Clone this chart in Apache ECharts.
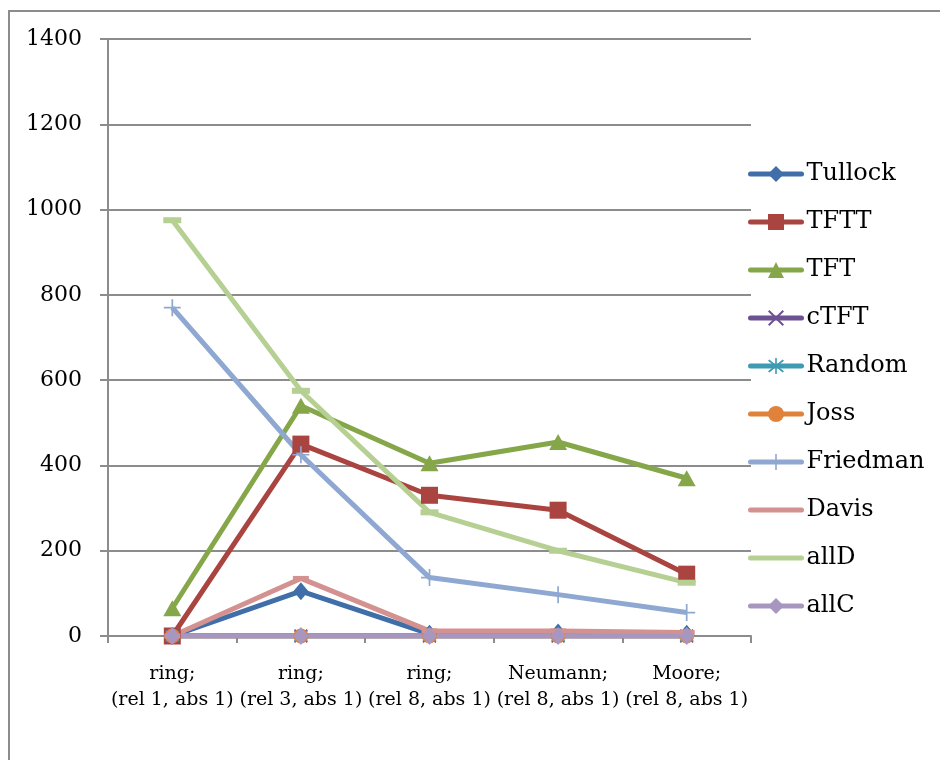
<!DOCTYPE html>
<html>
<head>
<meta charset="utf-8">
<script src="https://cdn.jsdelivr.net/npm/echarts@6/dist/echarts.min.js"></script>
<style>
  html, body { margin: 0; padding: 0; background: #fff; }
  #frame { position: absolute; left: 8px; top: 10px; width: 1000px; height: 800px; border: 2px solid #8c8c8c; box-sizing: border-box; }
  #chart { position: absolute; left: 0; top: 0; width: 940px; height: 760px; }
</style>
</head>
<body>
<div id="frame"></div>
<div id="chart"></div>
<script>
// Neighbourhood configurations on the x axis
const categories = [
  'ring;\n(rel 1, abs 1)',
  'ring;\n(rel 3, abs 1)',
  'ring;\n(rel 8, abs 1)',
  'Neumann;\n(rel 8, abs 1)',
  'Moore;\n(rel 8, abs 1)'
];
const yTicks = { min: 0, max: 1400, step: 200 };

// Strategy counts per configuration
const tullock  = [0, 105, 5, 8, 5];
const tftt     = [0, 450, 330, 295, 145];
const tft      = [65, 540, 405, 455, 370];
const ctft     = [0, 0, 0, 0, 0];
const random   = [0, 0, 0, 0, 0];
const joss     = [0, 0, 0, 0, 0];
const friedman = [770, 425, 137, 97, 55];
const davis    = [0, 135, 12, 12, 8];
const allD     = [975, 575, 290, 200, 125];
const allC     = [0, 0, 0, 0, 0];

const SERIF = '"DejaVu Serif", "Liberation Serif", serif';

// marker shapes
const xMark = 'path://M1.4,0 L8,6.6 L14.6,0 L16,1.4 L9.4,8 L16,14.6 L14.6,16 L8,9.4 L1.4,16 L0,14.6 L6.6,8 L0,1.4 Z';
const plusMark = 'path://M7.2,0 H8.8 V7.2 H16 V8.8 H8.8 V16 H7.2 V8.8 H0 V7.2 H7.2 Z';
const starMark = 'path://M1.4,0 L8,6.6 L14.6,0 L16,1.4 L9.4,8 L16,14.6 L14.6,16 L8,9.4 L1.4,16 L0,14.6 L6.6,8 L0,1.4 Z M7.2,-2 H8.8 V18 H7.2 Z';

function line(name, data, color, symbol, size) {
  return {
    name, type: 'line', data,
    symbol, symbolSize: size,
    showSymbol: true,
    lineStyle: { color, width: 5 },
    itemStyle: { color, borderWidth: 0 },
    emphasis: { disabled: true },
    animation: false
  };
}

const series = [
  line('Tullock', tullock, '#3F6EA8', 'diamond', [15, 18]),
  line('TFTT', tftt, '#AA4441', 'rect', 17),
  line('TFT', tft, '#86A749', 'triangle', [18, 16]),
  line('cTFT', ctft, '#6C5193', xMark, 14),
  line('Random', random, '#3F9AB3', starMark, 14),
  line('Joss', joss, '#E0823A', 'circle', 15),
  line('Friedman', friedman, '#8EA8D1', plusMark, 17),
  line('Davis', davis, '#D39290', 'rect', [16, 5]),
  line('allD', allD, '#B6CF93', 'rect', [18, 6]),
  line('allC', allC, '#A797C0', 'diamond', [15, 18])
];

// dash-marker series show only their line in the legend
const plainLegend = ['Davis', 'allD'];
const legendData = series.map(s => plainLegend.includes(s.name)
  ? { name: s.name, itemStyle: { color: 'rgba(0,0,0,0)', opacity: 0 } }
  : { name: s.name });

const chart = echarts.init(document.getElementById('chart'), null, { renderer: 'canvas' });
chart.setOption({
  backgroundColor: 'transparent',
  textStyle: { fontFamily: SERIF },
  grid: { left: 108, right: 189, top: 39, bottom: 124, containLabel: false },
  legend: {
    orient: 'vertical',
    left: 748, top: 161,
    padding: 0,
    itemWidth: 51, itemHeight: 20,
    itemGap: 22,
    lineStyle: { width: 5, cap: 'round' },
    textStyle: { fontFamily: SERIF, fontSize: 24, color: '#000', lineHeight: 26 },
    data: legendData
  },
  xAxis: {
    type: 'category',
    data: categories,
    boundaryGap: true,
    axisLine: { lineStyle: { color: '#8c8c8c', width: 2 } },
    axisTick: { show: true, length: 7, lineStyle: { color: '#8c8c8c', width: 2 } },
    axisLabel: { fontFamily: SERIF, fontSize: 19, color: '#000', margin: 25, lineHeight: 26, interval: 0 }
  },
  yAxis: {
    type: 'value',
    min: yTicks.min, max: yTicks.max, interval: yTicks.step,
    axisLine: { show: true, lineStyle: { color: '#8c8c8c', width: 2 } },
    axisTick: { show: true, length: 8, lineStyle: { color: '#8c8c8c', width: 2 } },
    splitLine: { show: true, lineStyle: { color: '#8c8c8c', width: 2 } },
    axisLabel: { fontFamily: SERIF, fontSize: 22, color: '#000', margin: 26, formatter: v => String(v) }
  },
  series
});
</script>
</body>
</html>
